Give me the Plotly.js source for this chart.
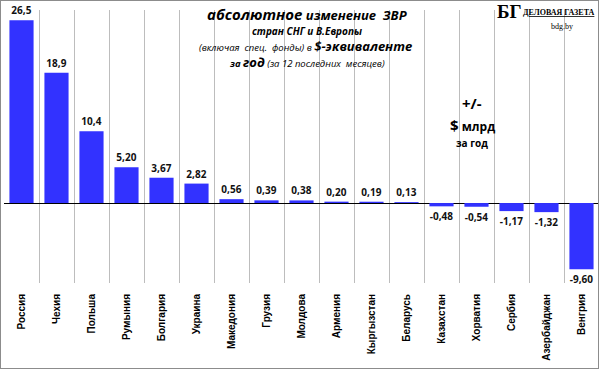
<!DOCTYPE html>
<html><head><meta charset="utf-8">
<script src="https://cdn.plot.ly/plotly-3.0.1.min.js"></script>
<style>
body{margin:0;padding:0;background:#fff;}
#wrap{position:relative;width:600px;height:370px;}
#chart{width:600px;height:370px;}
#frame{position:absolute;left:0;top:0;width:597px;height:367px;border:1px solid #8c8c8c;pointer-events:none;}
</style>
</head><body>
<div id="wrap"><div id="chart"></div><div id="frame"></div></div>
<script>
const countries = ["Россия","Чехия","Польша","Румыния","Болгария","Украина","Македония","Грузия","Молдова","Армения","Кыргызстан","Беларусь","Казахстан","Хорватия","Сербия","Азербайджан","Венгрия"];
const values = [26.5,18.9,10.4,5.20,3.67,2.82,0.56,0.39,0.38,0.20,0.19,0.13,-0.48,-0.54,-1.17,-1.32,-9.60];
const valueLabels = ["26,5","18,9","10,4","5,20","3,67","2,82","0,56","0,39","0,38","0,20","0,19","0,13","-0,48","-0,54","-1,17","-1,32","-9,60"];

const W=600,H=370,ML=4,MR=1,MT=10,MB=87;
const PW=W-ML-MR, PH=H-MT-MB;
const px = x => (x-ML)/PW;
const py = y => (H-MB-y)/PH;

const trace = {
  type:'bar', x:countries, y:values, text:valueLabels,
  textposition:'outside', cliponaxis:false,
  textfont:{family:'Open Sans, sans-serif', size:10, color:'#111', weight:'bold'},
  marker:{color:'#3232ff'}, hoverinfo:'none'
};

const ann = (x,y,text,size,opts={}) => Object.assign({
  xref:'paper', yref:'paper', x:px(x), y:py(y), text:text, showarrow:false,
  xanchor:'center', yanchor:'middle',
  font:{family:'Open Sans, sans-serif', size:size, color:'#000'}
}, opts);

const annotations = [
  ann(307,14,'<b><i><span style="font-size:15px">абсолютное</span> изменение  ЗВР</i></b>',13),
  ann(307,31,'<b><i>стран СНГ и В.Европы</i></b>',10),
  ann(305,46,'<i>(включая  спец.  фонды) в </i><b><i><span style="font-size:13px">$-эквиваленте</span></i></b>',9.5),
  ann(307,62,'<b><i>за </i></b><b><i><span style="font-size:13px">год</span></i></b><i> (за 12 последних  месяцев)</i>',9.5),
  ann(472,103,'<b>+/-</b>',15),
  ann(472,125,'<b><span style="font-size:15px">$</span> млрд</b>',12),
  ann(472,143,'<b>за год</b>',10),
  ann(524,12,'<b>БГ</b>',19,{xanchor:'right',font:{family:'Liberation Serif, serif',size:19,color:'#000'}}),
  ann(597,13,'<b><u>ДЕЛОВАЯ ГАЗЕТА</u></b>',8,{xanchor:'right',font:{family:'Liberation Serif, serif',size:8,color:'#000'}}),
  ann(562,26,'bdg.by',8,{font:{family:'Liberation Serif, serif',size:8,color:'#000'}})
];

const layout = {
  width:W, height:H,
  margin:{l:ML,r:MR,t:MT,b:MB,pad:0},
  paper_bgcolor:'#fff', plot_bgcolor:'#fff',
  bargap:0.31, showlegend:false,
  xaxis:{
    type:'category', showgrid:true, tickson:'boundaries', gridcolor:'#bdbdbd', gridwidth:1,
    tickangle:-90, ticks:'', ticklabelstandoff:8, showline:false, zeroline:false,
    tickfont:{family:'Liberation Sans, Arial, sans-serif', size:10, color:'#000', weight:'bold'},
    fixedrange:true
  },
  yaxis:{
    range:[-11.6,28], showgrid:false, showticklabels:false, ticks:'',
    zeroline:true, zerolinecolor:'#000', zerolinewidth:1, showline:false, fixedrange:true
  },
  annotations:annotations
};

Plotly.newPlot('chart',[trace],layout,{displayModeBar:false,staticPlot:true});
</script>
</body></html>
